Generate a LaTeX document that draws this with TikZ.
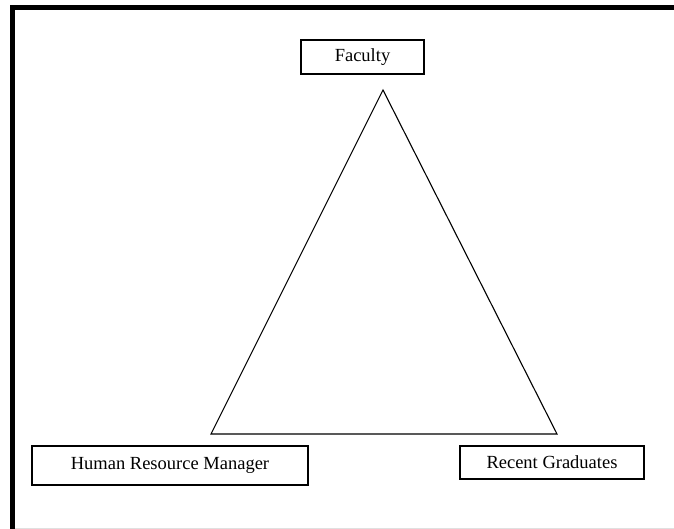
\documentclass[tikz,border=0pt]{standalone}
\usepackage{fontspec}
\setmainfont{Liberation Serif}
\begin{document}
\begin{tikzpicture}[x=1pt,y=-1pt,
  rolebox/.style={draw=black,line width=1.4pt,inner sep=0pt,
    font=\fontsize{18.5}{20}\selectfont,text=black},
  edge/.style={draw=black,line width=1.1pt,line join=miter}]
\useasboundingbox (0,0) rectangle (674,529);
% page frame
\fill[black] (10,5) rectangle (674,10);
\fill[black] (10,5) rectangle (15,529);
\draw[black!12,line width=1pt] (15,528) -- (674,528);
% the three parties
\node[rolebox,minimum width=123pt,minimum height=34pt] (fac) at (362.5,57) {Faculty};
\node[rolebox,minimum width=276pt,minimum height=39pt] (hrm) at (170,465.5) {Human Resource Manager};
\node[rolebox,minimum width=184pt,minimum height=33pt] (grad) at (552,462.5) {Recent Graduates};
% triangle linking them
\coordinate (top) at (383,90);
\coordinate (bl) at (211,434);
\coordinate (br) at (557,434);
\draw[edge] (top) -- (bl) -- (br) -- cycle;
\end{tikzpicture}
\end{document}
